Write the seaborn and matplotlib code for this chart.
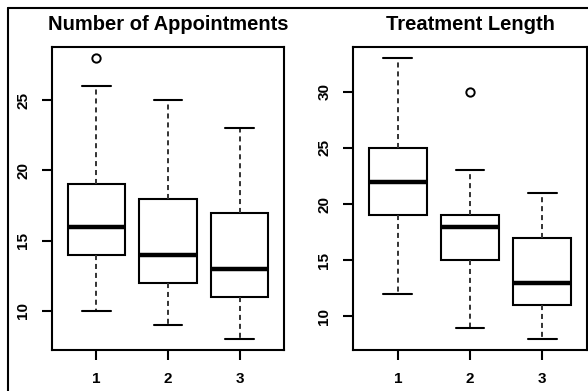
import matplotlib
matplotlib.use("Agg")
import matplotlib.pyplot as plt
from matplotlib.lines import Line2D
import pandas as pd
import seaborn as sns

# Group labels shared by both panels
groups = ["1", "2", "3"]

# Number of appointments per patient, by group
appointments_g1 = [10, 12, 13, 14, 15, 15, 16, 17, 18, 19, 22, 26, 28]
appointments_g2 = [9, 11, 12, 13, 14, 16, 18, 21, 25]
appointments_g3 = [8, 10, 11, 12, 13, 15, 17, 20, 23]

# Treatment length per patient, by group
treatment_g1 = [12, 17, 19, 21, 22, 23, 25, 29, 33]
treatment_g2 = [9, 12, 14, 15, 16, 17, 18, 18, 19, 19, 21, 23, 30]
treatment_g3 = [8, 10, 11, 12, 13, 15, 17, 19, 21]

titles = ["Number of Appointments", "Treatment Length"]
ylims = [(7.2, 28.8), (7.0, 34.0)]
yticks = [[10, 15, 20, 25], [10, 15, 20, 25, 30]]


def long_frame(series):
    rows = []
    for g, vals in zip(groups, series):
        rows += [{"group": g, "value": v} for v in vals]
    return pd.DataFrame(rows)


panels = [
    long_frame([appointments_g1, appointments_g2, appointments_g3]),
    long_frame([treatment_g1, treatment_g2, treatment_g3]),
]

sns.set_style("ticks")
plt.rcParams["font.family"] = ["Liberation Sans", "DejaVu Sans"]
plt.rcParams["text.color"] = "black"

W, H = 588, 391
fig = plt.figure(figsize=(W / 100, H / 100), dpi=100)
fig.patch.set_facecolor("white")

boxes_px = [(52, 47, 284, 350), (353, 47, 587, 350)]

for (x0, y0, x1, y1), df, title, ylim, yt in zip(boxes_px, panels, titles, ylims, yticks):
    ax = fig.add_axes([x0 / W, 1 - y1 / H, (x1 - x0) / W, (y1 - y0) / H])
    sns.boxplot(
        data=df, x="group", y="value", order=groups, ax=ax,
        color="white", linecolor="black", linewidth=1.5, width=0.8,
        fliersize=6,
        whiskerprops={"linestyle": (0, (2.6, 2.0)), "linewidth": 1.4,
                      "color": "#333333"},
        medianprops={"linewidth": 3.2, "color": "black"},
        flierprops={"marker": "o", "markerfacecolor": "none",
                    "markeredgecolor": "black", "markeredgewidth": 1.4},
    )
    ax.set_xlim(-0.62, 2.62)
    ax.set_ylim(*ylim)
    ax.set_yticks(yt)
    ax.set_xlabel("")
    ax.set_ylabel("")
    ax.set_facecolor("white")
    for sp in ax.spines.values():
        sp.set_visible(True)
        sp.set_color("black")
        sp.set_linewidth(1.5)
    ax.tick_params(axis="both", length=7.5, width=1.5, color="black",
                   labelsize=11, labelcolor="black", pad=8)
    for lab in ax.get_xticklabels():
        lab.set_fontweight("bold")
    for lab in ax.get_yticklabels():
        lab.set_fontweight("bold")
        lab.set_rotation(90)
        lab.set_va("center")
    ax.set_title(title, fontsize=14.5, fontweight="bold", pad=12, color="black")

# Frame lines along the left and top edge of the figure
fig.add_artist(Line2D([8 / W, 8 / W], [0, 1 - 8 / H], transform=fig.transFigure,
                      color="black", lw=1.5))
fig.add_artist(Line2D([8 / W, 1], [1 - 8 / H, 1 - 8 / H], transform=fig.transFigure,
                      color="black", lw=1.5))

fig.savefig("out.png", dpi=100)
